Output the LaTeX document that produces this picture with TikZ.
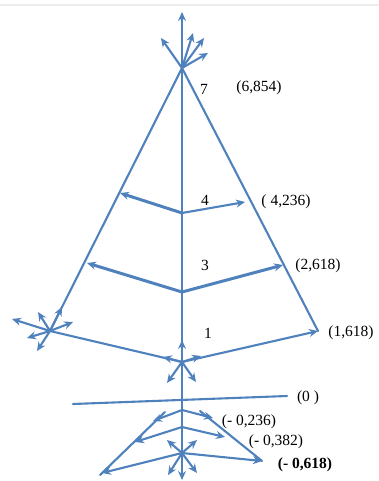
\documentclass[tikz,border=0pt]{standalone}
\usepackage{fontspec}
\setmainfont{Liberation Serif}
\usetikzlibrary{arrows.meta}
\definecolor{bl}{RGB}{79,129,189}
\begin{document}
\begin{tikzpicture}[x=1pt,y=-1pt,
  ln/.style={draw=bl,line width=2.1pt,line cap=round},
  ar/.style={ln,-{Stealth[length=9pt,width=8pt,inset=3pt]}},
  thk/.style={line width=3pt},
  lbl/.style={font=\fontsize{15.5}{17}\selectfont,inner sep=0pt,text=black}]
\useasboundingbox (0,0) rectangle (379,481);
\draw[black!7,line width=1.5pt] (0,5) -- (379,5);
% coordinates
\coordinate (apex) at (182,68);
\coordinate (topU) at (182,12);
\coordinate (topA) at (161,38);
\coordinate (topB) at (193,33);
\coordinate (topC) at (204,38);
\coordinate (topD) at (208,53);
\coordinate (bot) at (182,480);
\coordinate (c4) at (182,213);
\coordinate (l4) at (120,193);
\coordinate (r4) at (245,202);
\coordinate (c3) at (182,292);
\coordinate (l3) at (87,263);
\coordinate (r3) at (283,265);
\coordinate (c1) at (182,362);
\coordinate (r1) at (318,331);
\coordinate (ls) at (50,331);
\coordinate (ls1) at (12,319);
\coordinate (ls2) at (38,312);
\coordinate (ls3) at (62,307);
\coordinate (ls4) at (73,322);
\coordinate (ls5) at (27,338);
\coordinate (ls6) at (37,351);
\coordinate (c1u) at (182,340);
\coordinate (c1l) at (163,357);
\coordinate (c1r) at (201,356);
\coordinate (c1dl) at (167,383);
\coordinate (c1dr) at (196,382);
\coordinate (z1) at (73,404);
\coordinate (z2) at (287,396);
\coordinate (ba) at (182,410);
\coordinate (bal) at (153,421);
\coordinate (bar) at (213,418);
\coordinate (b2) at (182,427);
\coordinate (b2l) at (135,442);
\coordinate (b2r) at (225,437);
\coordinate (el1) at (165,412);
\coordinate (el2) at (100,475);
\coordinate (er1) at (200,411);
\coordinate (er2) at (262,461);
\coordinate (bs) at (182,453);
\coordinate (bsl) at (102,473);
\coordinate (bsr) at (262,461);
\coordinate (bsul) at (167,440);
\coordinate (bsur) at (197,440);
\coordinate (bsdl) at (168,475);
\coordinate (bsdr) at (197,473);
% main triangle
\draw[ln] (apex) -- (ls);
\draw[ln] (apex) -- (r1);
\draw[ar] (apex) -- (bot);
% top star
\draw[ar] (apex) -- (topU);
\draw[ar] (apex) -- (topA);
\draw[ar] (apex) -- (topB);
\draw[ar] (apex) -- (topC);
\draw[ar] (apex) -- (topD);
% level 4 and 3
\draw[ar,thk] (c4) -- (l4);
\draw[ar] (c4) -- (r4);
\draw[ar,thk] (c3) -- (l3);
\draw[ar,thk] (c3) -- (r3);
% level 1
\draw[ln] (ls) -- (c1);
\draw[ar] (c1) -- (r1);
\draw[ar] (c1) -- (c1u);
\draw[ar] (c1) -- (c1l);
\draw[ar] (c1) -- (c1r);
\draw[ar] (c1) -- (c1dl);
\draw[ar] (c1) -- (c1dr);
% left star
\draw[ar] (ls) -- (ls1);
\draw[ar] (ls) -- (ls2);
\draw[ar] (ls) -- (ls3);
\draw[ar] (ls) -- (ls4);
\draw[ar] (ls) -- (ls5);
\draw[ar] (ls) -- (ls6);
% zero line
\draw[ln] (z1) -- (z2);
% bottom pyramid
\draw[ln] (el1) -- (el2);
\draw[ln] (er1) -- (er2);
\draw[ar] (ba) -- (bal);
\draw[ar] (ba) -- (bar);
\draw[ar] (b2) -- (b2l);
\draw[ar] (b2) -- (b2r);
\draw[ar] (bs) -- (bsl);
\draw[ar] (bs) -- (bsr);
\draw[ar] (bs) -- (bsul);
\draw[ar] (bs) -- (bsur);
\draw[ar] (bs) -- (bsdl);
\draw[ar] (bs) -- (bsdr);
% labels
\node[lbl] (n7) at (204,89) {7};
\node[lbl] (v7) at (259,88) {(6,854)};
\node[lbl] (n4) at (205,200) {4};
\node[lbl] (v4) at (286,202) {( 4,236)};
\node[lbl] (n3) at (205,265) {3};
\node[lbl] (v3) at (318,266) {(2,618)};
\node[lbl] (n1) at (208,333) {1};
\node[lbl] (v1) at (351,333) {(1,618)};
\node[lbl] (v0) at (308,398) {(0 )};
\node[lbl] (m1) at (249,422) {(- 0,236)};
\node[lbl] (m2) at (276,442) {(- 0,382)};
\node[lbl,font=\fontsize{15.5}{17}\selectfont\bfseries] (m3) at (305,465) {(- 0,618)};
\end{tikzpicture}
\end{document}
